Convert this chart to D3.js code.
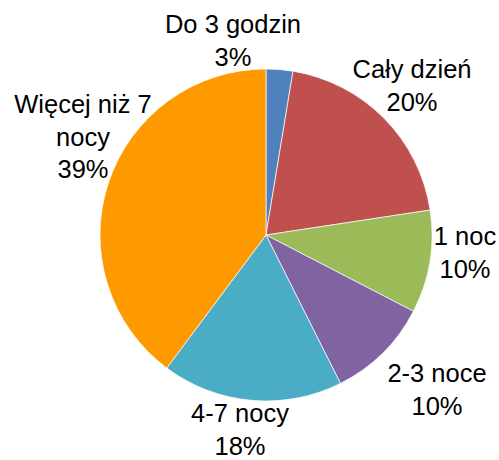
<!DOCTYPE html>
<html>
<head>
<meta charset="utf-8">
<script src="https://cdn.jsdelivr.net/npm/d3@7"></script>
<style>
  body { margin: 0; background: #fff; }
  text { font-family: "Liberation Sans", Arial, sans-serif; font-size: 25.5px; fill: #000; }
</style>
</head>
<body>
<div id="chart"></div>
<script>
// data
var categories = ["Do 3 godzin", "Cały dzień", "1 noc", "2-3 noce", "4-7 nocy", "Więcej niż 7 nocy"];
var values = [2.6, 20, 10, 10, 17.6, 39.8];
var pctLabels = ["3%", "20%", "10%", "10%", "18%", "39%"];
var colors = ["#4F81BD", "#C0504D", "#9BBB59", "#8064A2", "#4BACC6", "#FF9900"];

// label text lines + where each label block sits (x centre, first baseline)
var labelLines = [
    ["Do 3 godzin"],
    ["Cały dzień"],
    ["1 noc"],
    ["2-3 noce"],
    ["4-7 nocy"],
    ["Więcej niż 7", "nocy"]
];
var labelPos = [[233, 33], [412, 78], [465, 245], [437, 382], [240, 422], [83, 113]];

var width = 499, height = 460;
var cx = 266, cy = 235, radius = 166;
var lineH = 32.5;

var svg = d3.select("#chart").append("svg")
    .attr("width", width)
    .attr("height", height);

var g = svg.append("g")
    .attr("transform", "translate(" + cx + "," + cy + ")");

var pie = d3.pie().value(function (d) { return d; }).sort(null);
var arc = d3.arc().innerRadius(0).outerRadius(radius);

g.selectAll("path")
    .data(pie(values))
    .enter().append("path")
    .attr("d", arc)
    .attr("fill", function (d, i) { return colors[i]; })
    .style("stroke", "#fff")
    .style("stroke-width", 0.7);

var labels = svg.selectAll(".lbl")
    .data(categories)
    .enter().append("text")
    .attr("class", "lbl")
    .attr("text-anchor", "middle")
    .attr("x", function (d, i) { return labelPos[i][0]; })
    .attr("y", function (d, i) { return labelPos[i][1]; });

labels.each(function (d, i) {
    var t = d3.select(this);
    var lines = labelLines[i].concat([pctLabels[i]]);
    lines.forEach(function (s, k) {
        t.append("tspan")
            .attr("x", labelPos[i][0])
            .attr("dy", k == 0 ? 0 : lineH)
            .text(s);
    });
});
</script>
</body>
</html>
